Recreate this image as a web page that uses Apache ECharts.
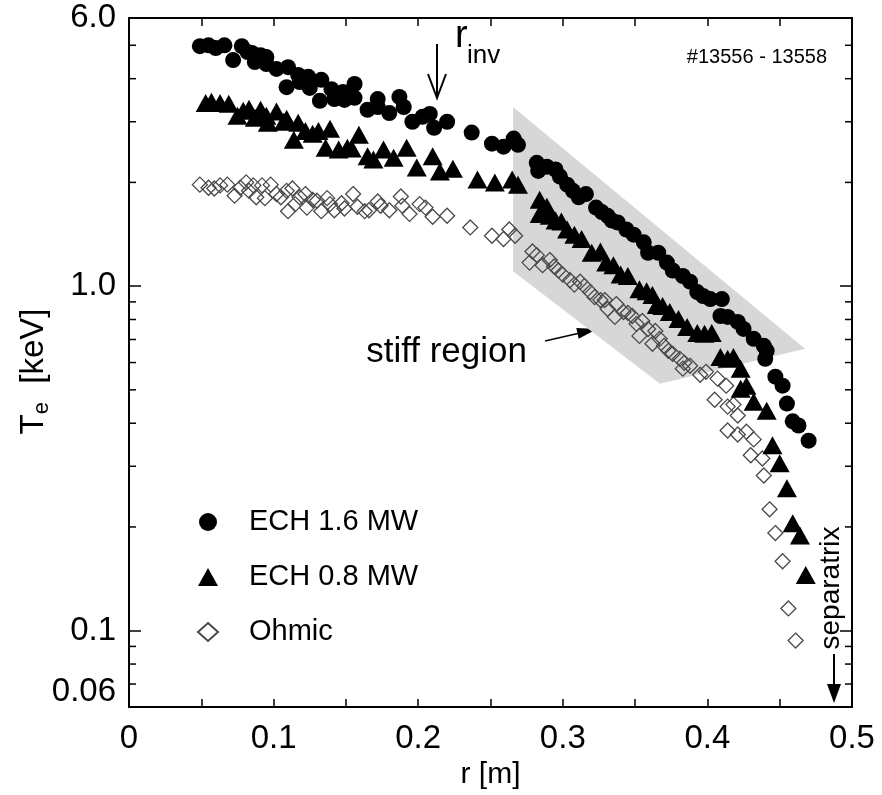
<!DOCTYPE html>
<html><head><meta charset="utf-8">
<script src="https://cdn.jsdelivr.net/npm/echarts@6/dist/echarts.min.js"></script>
<style>html,body{margin:0;padding:0;background:#fff}#c{width:882px;height:795px}</style>
</head><body><div id="c"></div>
<script>
const seriesNames = ['ECH 1.6 MW', 'ECH 0.8 MW', 'Ohmic'];
const ech16 = [[0.049,4.97],[0.055,5.00],[0.060,4.91],[0.066,5.00],[0.072,4.53],[0.078,4.97],[0.082,4.78],[0.085,4.75],[0.087,4.47],[0.091,4.68],[0.095,4.62],[0.095,4.41],[0.102,4.27],[0.110,4.32],[0.109,3.78],[0.117,4.10],[0.118,3.91],[0.124,4.05],[0.125,3.76],[0.133,3.97],[0.132,3.45],[0.140,3.73],[0.142,3.49],[0.148,3.66],[0.149,3.47],[0.156,3.86],[0.156,3.52],[0.165,3.25],[0.172,3.49],[0.172,3.31],[0.180,3.18],[0.187,3.54],[0.190,3.31],[0.196,3.00],[0.203,3.10],[0.208,3.16],[0.211,2.88],[0.220,3.00],[0.237,2.79],[0.251,2.59],[0.259,2.54],[0.266,2.68],[0.269,2.57],[0.282,2.28],[0.283,2.16],[0.289,2.22],[0.295,2.18],[0.298,2.08],[0.303,1.97],[0.307,1.89],[0.311,1.81],[0.316,1.85],[0.323,1.69],[0.327,1.64],[0.331,1.60],[0.334,1.55],[0.338,1.53],[0.344,1.46],[0.349,1.41],[0.356,1.34],[0.359,1.25],[0.366,1.25],[0.372,1.17],[0.376,1.11],[0.383,1.07],[0.388,1.03],[0.393,0.961],[0.397,0.936],[0.402,0.917],[0.410,0.917],[0.409,0.819],[0.414,0.814],[0.421,0.787],[0.425,0.751],[0.432,0.703],[0.439,0.671],[0.441,0.649],[0.440,0.615],[0.447,0.546],[0.452,0.514],[0.455,0.456],[0.459,0.405],[0.463,0.394],[0.470,0.356]];
const ech08 = [[0.053,3.40],[0.057,3.43],[0.063,3.40],[0.069,3.38],[0.075,3.12],[0.079,3.23],[0.083,3.27],[0.087,3.08],[0.091,3.25],[0.095,3.12],[0.096,2.98],[0.102,3.21],[0.107,3.00],[0.109,3.06],[0.114,2.66],[0.117,2.98],[0.122,2.82],[0.127,2.77],[0.131,2.82],[0.136,2.52],[0.139,2.86],[0.145,2.49],[0.151,2.52],[0.154,2.51],[0.159,2.75],[0.165,2.38],[0.169,2.33],[0.176,2.49],[0.183,2.36],[0.192,2.52],[0.199,2.21],[0.210,2.38],[0.215,2.15],[0.224,2.19],[0.241,2.04],[0.253,2.00],[0.265,2.04],[0.269,1.97],[0.284,1.78],[0.284,1.62],[0.289,1.70],[0.291,1.60],[0.295,1.55],[0.299,1.54],[0.303,1.46],[0.308,1.41],[0.313,1.37],[0.320,1.25],[0.326,1.26],[0.330,1.17],[0.335,1.15],[0.340,1.08],[0.345,1.07],[0.353,0.980],[0.358,0.967],[0.362,0.942],[0.365,0.882],[0.369,0.875],[0.374,0.841],[0.380,0.803],[0.386,0.761],[0.393,0.731],[0.398,0.727],[0.403,0.731],[0.409,0.623],[0.414,0.615],[0.418,0.623],[0.423,0.576],[0.423,0.504],[0.427,0.514],[0.432,0.462],[0.441,0.435],[0.445,0.345],[0.450,0.306],[0.455,0.259],[0.459,0.205],[0.464,0.189],[0.468,0.145]];
const ohmic = [[0.049,1.97],[0.055,1.93],[0.059,1.92],[0.063,1.96],[0.068,1.97],[0.073,1.83],[0.077,1.93],[0.081,2.00],[0.083,1.89],[0.086,1.96],[0.088,1.81],[0.092,1.96],[0.094,1.80],[0.098,1.97],[0.102,1.85],[0.105,1.81],[0.109,1.89],[0.110,1.65],[0.113,1.92],[0.115,1.73],[0.118,1.81],[0.122,1.85],[0.123,1.69],[0.127,1.78],[0.130,1.77],[0.133,1.65],[0.137,1.80],[0.139,1.73],[0.142,1.66],[0.147,1.74],[0.149,1.68],[0.155,1.85],[0.158,1.70],[0.163,1.65],[0.166,1.66],[0.172,1.76],[0.174,1.71],[0.180,1.66],[0.188,1.82],[0.189,1.71],[0.194,1.62],[0.201,1.73],[0.205,1.69],[0.210,1.59],[0.220,1.60],[0.236,1.48],[0.251,1.40],[0.259,1.37],[0.263,1.46],[0.267,1.40],
[0.279,1.26],[0.277,1.17],[0.282,1.23],[0.286,1.15],[0.291,1.19],[0.294,1.14],[0.297,1.11],[0.300,1.08],[0.305,1.04],[0.308,1.01],[0.312,1.03],[0.315,1.00],[0.319,0.961],[0.322,0.929],[0.326,0.911],[0.329,0.911],[0.331,0.858],[0.337,0.887],[0.336,0.814],[0.342,0.841],[0.345,0.836],[0.348,0.819],[0.351,0.777],[0.355,0.792],[0.353,0.717],[0.359,0.751],[0.364,0.741],[0.362,0.680],[0.367,0.703],[0.370,0.671],[0.373,0.649],[0.376,0.636],[0.381,0.615],[0.384,0.599],[0.383,0.576],[0.388,0.587],[0.395,0.553],[0.399,0.564],[0.405,0.468],[0.407,0.539],[0.413,0.514],[0.414,0.447],[0.418,0.453],[0.421,0.421],[0.414,0.381],[0.421,0.371],[0.427,0.378],[0.432,0.359],[0.430,0.323],[0.438,0.316],[0.439,0.282],[0.443,0.225],[0.447,0.192],[0.452,0.159],[0.456,0.116],[0.461,0.0936]];
const stiffRegion = [[0.2656,3.31],[0.4675,0.658],[0.3672,0.521],[0.2656,1.105]];
const xTickLabels = ['0','0.1','0.2','0.3','0.4','0.5'];
const yTickValues = [0.06, 0.1, 1, 6];
const yTickLabels = ['0.06', '0.1', '1.0', '6.0'];
const yMinorTicks = [0.07,0.08,0.09,0.2,0.3,0.4,0.5,0.6,0.7,0.8,0.9,2,3,4,5];

const FONT = 'Liberation Sans, Arial, sans-serif';
const chart = echarts.init(document.getElementById('c'), null, {renderer: 'canvas'});

function yLabel(v) {
  for (let i = 0; i < yTickValues.length; i++) {
    if (Math.abs(Math.log10(v) - Math.log10(yTickValues[i])) < 1e-6) {
      return i === 0 ? '{low|' + yTickLabels[i] + '}' : yTickLabels[i];
    }
  }
  return '';
}
function xLabel(v) {
  const k = Math.round(v * 10);
  return Math.abs(v * 10 - k) < 1e-6 ? xTickLabels[k] : '';
}

const axisLine = {show: true, onZero: false, lineStyle: {color: '#000', width: 2}};

chart.setOption({
  animation: false,
  textStyle: {fontFamily: FONT},
  grid: {left: 129, right: 30, top: 18, bottom: 85, containLabel: false},
  legend: {
    orient: 'vertical', left: 192, top: 502,
    itemWidth: 20, itemHeight: 18, itemGap: 25,
    selectedMode: false,
    textStyle: {fontSize: 29, fontFamily: FONT, color: '#000', lineHeight: 30, padding: [0, 0, 0, 26]},
    data: seriesNames
  },
  xAxis: [{
    type: 'value', min: 0, max: 0.5, interval: 0.05, position: 'bottom',
    axisLine: axisLine,
    axisTick: {show: true, inside: true, length: 8, lineStyle: {color: '#000', width: 1.5}},
    axisLabel: {formatter: xLabel, fontSize: 33, color: '#000', margin: 15, fontFamily: FONT},
    splitLine: {show: false},
    name: 'r [m]', nameLocation: 'middle', nameGap: 47,
    nameTextStyle: {fontSize: 30, color: '#000', fontFamily: FONT}
  }, {
    type: 'value', min: 0, max: 0.5, interval: 0.05, position: 'top',
    axisLine: axisLine,
    axisTick: {show: true, inside: true, length: 8, lineStyle: {color: '#000', width: 1.5}},
    axisLabel: {show: false}, splitLine: {show: false}
  }],
  yAxis: [{
    type: 'log', logBase: 10, min: 0.06, max: 6, position: 'left',
    axisLine: axisLine,
    axisTick: {show: true, inside: true, length: 12, lineStyle: {color: '#000', width: 1.5}},
    axisLabel: {
      formatter: yLabel, fontSize: 33, color: '#000', margin: 13, fontFamily: FONT,
      rich: {low: {fontSize: 33, fontFamily: FONT, color: '#000', padding: [0, 0, 30, 0]}}
    },
    splitLine: {show: false},
    name: '{t|T}{s|e}{t|  [keV]}', nameLocation: 'middle', nameRotate: 90, nameGap: 76,
    nameMoveOverlap: false,
    nameTextStyle: {
      color: '#000', padding: [0, 18, 0, 0],
      rich: {
        t: {fontSize: 33, fontFamily: FONT, color: '#000'},
        s: {fontSize: 22, fontFamily: FONT, color: '#000', padding: [17, 0, 0, 0]}
      }
    }
  }, {
    type: 'log', logBase: 10, min: 0.06, max: 6, position: 'right',
    axisLine: axisLine,
    axisTick: {show: true, inside: true, length: 12, lineStyle: {color: '#000', width: 1.5}},
    axisLabel: {show: false}, splitLine: {show: false}
  }],
  graphic: [
    {type: 'line', shape: {x1: 437, y1: 44, x2: 437, y2: 97}, style: {stroke: '#000', lineWidth: 2}},
    {type: 'polyline', shape: {points: [[428, 74], [437, 98], [446, 74]]}, style: {stroke: '#000', lineWidth: 2, fill: null}},
    {type: 'text', x: 455, y: 37, style: {text: 'r', fontSize: 38, fontFamily: FONT, fill: '#000', align: 'left', verticalAlign: 'middle', textAlign: 'left', textVerticalAlign: 'middle'}},
    {type: 'text', x: 467, y: 56, style: {text: 'inv', fontSize: 26, fontFamily: FONT, fill: '#000', align: 'left', verticalAlign: 'middle', textAlign: 'left', textVerticalAlign: 'middle'}},
    {type: 'text', x: 827, y: 57, style: {text: '#13556 - 13558', fontSize: 20, fontFamily: FONT, fill: '#000', align: 'right', verticalAlign: 'middle', textAlign: 'right', textVerticalAlign: 'middle'}},
    {type: 'text', x: 527, y: 352, style: {text: 'stiff region', fontSize: 35, fontFamily: FONT, fill: '#000', align: 'right', verticalAlign: 'middle', textAlign: 'right', textVerticalAlign: 'middle'}},
    {type: 'line', shape: {x1: 545, y1: 341, x2: 580, y2: 333}, style: {stroke: '#000', lineWidth: 1.5}},
    {type: 'polygon', shape: {points: [[597, 329], [578.7, 338.7], [576.3, 327.9]]}, style: {fill: '#000'}},
    {type: 'text', x: 831, y: 588, rotation: Math.PI / 2, style: {text: 'separatrix', fontSize: 28, fontFamily: FONT, fill: '#000', align: 'center', verticalAlign: 'middle', textAlign: 'center', textVerticalAlign: 'middle'}},
    {type: 'line', shape: {x1: 834, y1: 654, x2: 834, y2: 686}, style: {stroke: '#000', lineWidth: 2}},
    {type: 'polygon', shape: {points: [[827, 684], [841, 684], [834, 703]]}, style: {fill: '#000'}}
  ],
  series: [
    {
      type: 'custom', name: 'stiff', silent: true, z: 1,
      data: stiffRegion,
      renderItem: function (params, api) {
        if (params.dataIndex !== 0) return null;
        return {
          type: 'polygon',
          shape: {points: stiffRegion.map(p => api.coord(p))},
          style: {fill: '#d7d7d7'}
        };
      }
    },
    {
      type: 'custom', name: 'minorTicks', silent: true, z: 10,
      data: yMinorTicks.map(v => [0, v]),
      renderItem: function (params, api) {
        const p = api.coord([0, api.value(1)]);
        const cs = params.coordSys;
        return {
          type: 'group',
          children: [
            {type: 'line', shape: {x1: cs.x, y1: p[1], x2: cs.x + 7, y2: p[1]}, style: {stroke: '#000', lineWidth: 1.5}},
            {type: 'line', shape: {x1: cs.x + cs.width - 7, y1: p[1], x2: cs.x + cs.width, y2: p[1]}, style: {stroke: '#000', lineWidth: 1.5}}
          ]
        };
      }
    },
    {
      type: 'scatter', name: seriesNames[2], data: ohmic, z: 3,
      symbol: 'diamond', symbolSize: [15, 15],
      itemStyle: {color: 'rgba(0,0,0,0)', borderColor: '#4a4a4a', borderWidth: 1.3, opacity: 1}
    },
    {
      type: 'scatter', name: seriesNames[1], data: ech08, z: 4,
      symbol: 'triangle', symbolSize: [20, 18],
      itemStyle: {color: '#000', opacity: 1}
    },
    {
      type: 'scatter', name: seriesNames[0], data: ech16, z: 5,
      symbol: 'circle', symbolSize: 16,
      itemStyle: {color: '#000', opacity: 1}
    }
  ]
});
</script>
</body></html>
